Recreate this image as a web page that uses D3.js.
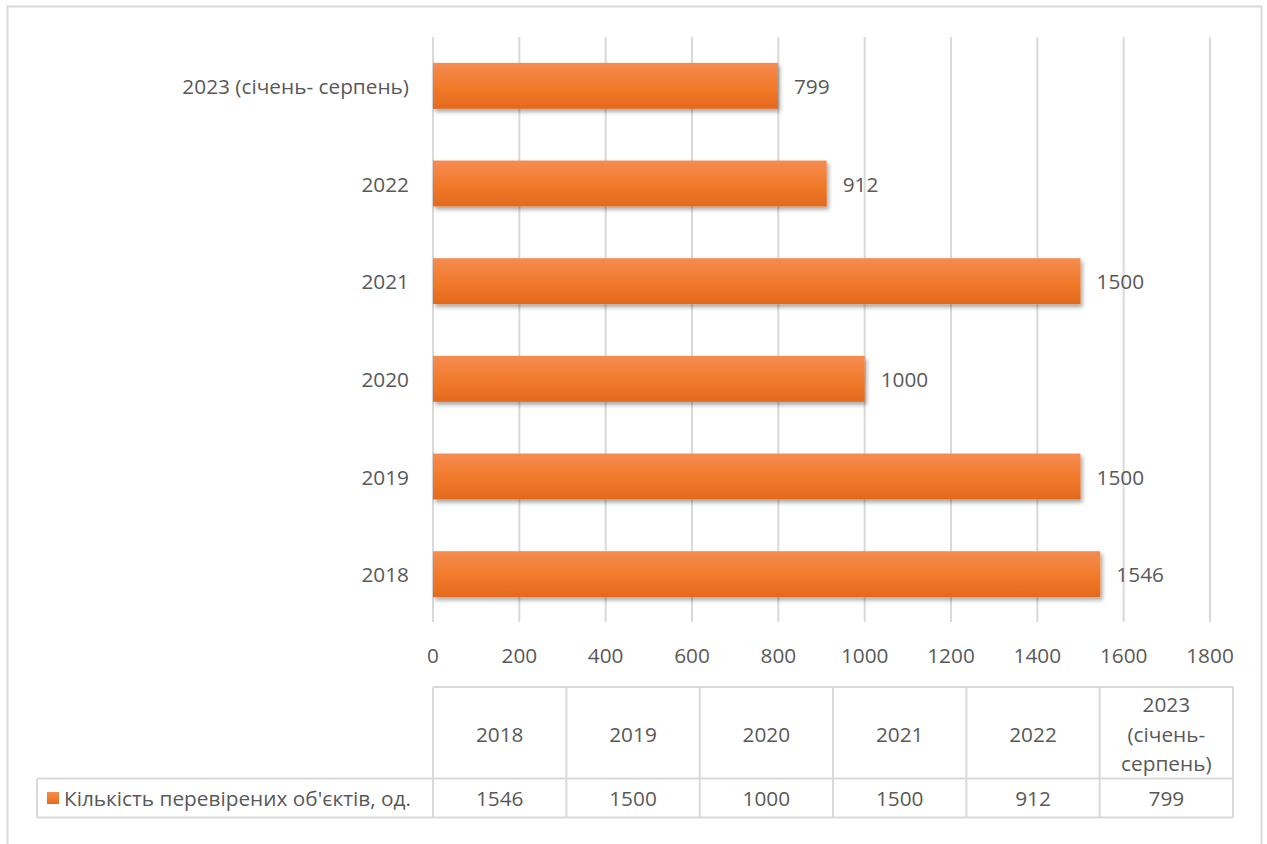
<!DOCTYPE html>
<html>
<head>
<meta charset="utf-8">
<script src="https://cdn.jsdelivr.net/npm/d3@7"></script>
<style>
  body { margin: 0; background: #fff; }
  text { font-family: "Open Sans", Lato, sans-serif; fill: #595959; }
</style>
</head>
<body>
<div id="chart"></div>
<script>
// Data
var categories = ["2018", "2019", "2020", "2021", "2022", "2023 (січень- серпень)"];
var headerLines = [["2018"], ["2019"], ["2020"], ["2021"], ["2022"], ["2023", "(січень-", "серпень)"]];
var values = [1546, 1500, 1000, 1500, 912, 799];
var xTicks = [0, 200, 400, 600, 800, 1000, 1200, 1400, 1600, 1800];
var seriesName = "Кількість перевірених об'єктів, од.";

var W = 1267, H = 844;
var fontSize = 20.8;

var svg = d3.select("#chart")
  .append("svg")
    .attr("width", W)
    .attr("height", H);

// gradient + shadow for the bars
var defs = svg.append("defs");
var grad = defs.append("linearGradient")
    .attr("id", "barGrad")
    .attr("x1", 0).attr("y1", 0).attr("x2", 0).attr("y2", 1);
grad.append("stop").attr("offset", "0%").attr("stop-color", "#f48c52");
grad.append("stop").attr("offset", "50%").attr("stop-color", "#f27b2c");
grad.append("stop").attr("offset", "100%").attr("stop-color", "#e4691c");

var shadow = defs.append("filter")
    .attr("id", "shadow")
    .attr("x", "-5%").attr("y", "-20%").attr("width", "115%").attr("height", "160%");
shadow.append("feDropShadow")
    .attr("dx", 2).attr("dy", 3).attr("stdDeviation", 2)
    .attr("flood-color", "#000").attr("flood-opacity", 0.35);

// outer chart border
svg.append("rect")
    .attr("x", 7.5).attr("y", 6.5)
    .attr("width", 1254).attr("height", 860)
    .attr("fill", "none")
    .attr("stroke", "#d9d9d9")
    .attr("stroke-width", 2);

// scales
var x = d3.scaleLinear()
    .domain([0, 1800])
    .range([433, 1210]);

var y = d3.scaleBand()
    .domain(categories.slice().reverse())
    .range([37, 623])
    .paddingInner(0.53)
    .paddingOuter(0.265);

// gridlines
svg.append("g")
  .selectAll("line")
  .data(xTicks)
  .enter().append("line")
    .attr("x1", d => x(d)).attr("x2", d => x(d))
    .attr("y1", 37).attr("y2", 622)
    .attr("stroke", "#d9d9d9")
    .attr("stroke-width", 2);

// x tick labels
svg.append("g")
  .selectAll("text")
  .data(xTicks)
  .enter().append("text")
    .attr("x", d => x(d))
    .attr("y", 655)
    .attr("text-anchor", "middle")
    .attr("dominant-baseline", "central")
    .style("font-size", fontSize + "px")
    .text(d => d);

// category labels
svg.append("g")
  .selectAll("text")
  .data(categories)
  .enter().append("text")
    .attr("x", 409)
    .attr("y", d => y(d) + y.bandwidth() / 2)
    .attr("text-anchor", "end")
    .attr("dominant-baseline", "central")
    .style("font-size", fontSize + "px")
    .text(d => d);

// bars
svg.append("g")
  .selectAll("rect")
  .data(values)
  .enter().append("rect")
    .attr("x", x(0))
    .attr("y", (d, i) => y(categories[i]))
    .attr("width", d => x(d) - x(0))
    .attr("height", y.bandwidth())
    .attr("fill", "url(#barGrad)")
    .attr("filter", "url(#shadow)");

// value labels
svg.append("g")
  .selectAll("text")
  .data(values)
  .enter().append("text")
    .attr("x", d => x(d) + 16)
    .attr("y", (d, i) => y(categories[i]) + y.bandwidth() / 2)
    .attr("dominant-baseline", "central")
    .style("font-size", fontSize + "px")
    .text(d => d);

// data table
var col = d3.scaleBand()
    .domain(categories)
    .range([433, 1233]);

var tTop = 687, tMid = 778.5, tBot = 817.5, legLeft = 37;
var table = svg.append("g")
    .attr("stroke", "#d9d9d9")
    .attr("stroke-width", 2);

table.append("line").attr("x1", 433).attr("x2", 1233).attr("y1", tTop).attr("y2", tTop);
table.append("line").attr("x1", legLeft).attr("x2", 1233).attr("y1", tMid).attr("y2", tMid);
table.append("line").attr("x1", legLeft).attr("x2", 1233).attr("y1", tBot).attr("y2", tBot);
table.append("line").attr("x1", legLeft).attr("x2", legLeft).attr("y1", tMid).attr("y2", tBot);
table.selectAll("line.col")
  .data(categories.concat(["end"]))
  .enter().append("line")
    .attr("class", "col")
    .attr("x1", (d, i) => i < categories.length ? col(d) : 1233)
    .attr("x2", (d, i) => i < categories.length ? col(d) : 1233)
    .attr("y1", tTop).attr("y2", tBot);

// header cells
var lineH = 29.5;
svg.append("g")
  .selectAll("text")
  .data(headerLines)
  .enter().append("text")
    .attr("x", (d, i) => col(categories[i]) + col.bandwidth() / 2)
    .attr("y", (tTop + tMid) / 2)
    .attr("text-anchor", "middle")
    .style("font-size", fontSize + "px")
    .each(function (d) {
      var t = d3.select(this);
      d.forEach(function (ln, j) {
        t.append("tspan")
          .attr("x", t.attr("x"))
          .attr("y", (tTop + tMid) / 2 + 1 + (j - (d.length - 1) / 2) * lineH)
          .attr("dominant-baseline", "central")
          .text(ln);
      });
    });

// value cells
svg.append("g")
  .selectAll("text")
  .data(values)
  .enter().append("text")
    .attr("x", (d, i) => col(categories[i]) + col.bandwidth() / 2)
    .attr("y", (tMid + tBot) / 2)
    .attr("text-anchor", "middle")
    .attr("dominant-baseline", "central")
    .style("font-size", fontSize + "px")
    .text(d => d);

// legend key + series name
svg.append("rect")
    .attr("x", 47).attr("y", 792)
    .attr("width", 12).attr("height", 12)
    .attr("fill", "url(#barGrad)");

svg.append("text")
    .attr("x", 64)
    .attr("y", (tMid + tBot) / 2)
    .attr("dominant-baseline", "central")
    .style("font-size", fontSize + "px")
    .text(seriesName);
</script>
</body>
</html>
